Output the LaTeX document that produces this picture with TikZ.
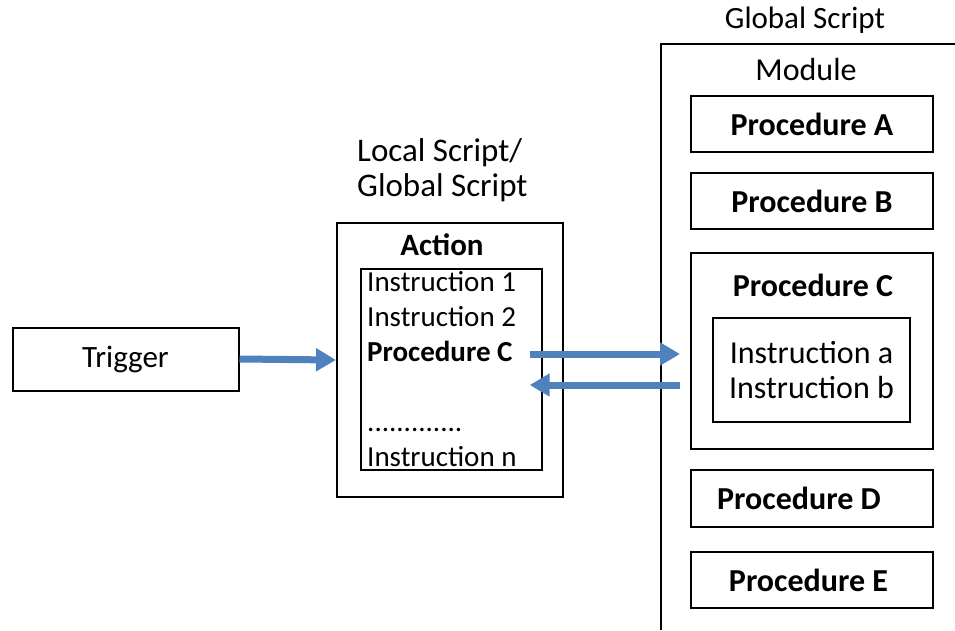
\documentclass[tikz,border=0pt]{standalone}
\usepackage{fontspec}
\setmainfont{Carlito}
\usetikzlibrary{arrows.meta}

\definecolor{flowblue}{RGB}{79,129,189}

\tikzset{
  box/.style={draw, line width=2pt, minimum width=#1, inner sep=0pt},
  flow/.style={draw=flowblue, line width=7pt, -{Triangle[width=22pt,length=20pt]}},
  txt/.style={inner sep=0pt, font=\fontsize{#1}{35}\selectfont},
  btxt/.style={inner sep=0pt, font=\fontsize{#1}{35}\selectfont\bfseries}
}

\begin{document}
\begin{tikzpicture}[x=1pt, y=-1pt]
\useasboundingbox (0,0) rectangle (955,630);

% trigger
\node[box=226pt, minimum height=63pt, txt=31] (trigger) at (125.5,359) {Trigger};

% action (local or global script)
\node[txt=33, align=left, anchor=base west] (actlabel) at (357,196) {Local Script/\\Global Script};
\node[box=226pt, minimum height=274pt] (action) at (450,360) {};
\node[btxt=31] (acttitle) at (442,245) {Action};
\node[box=181pt, minimum height=201pt] (list) at (451.5,369.5) {};
\node[txt=29, anchor=base west] (ins1) at (367,291) {Instruction 1};
\node[txt=29, anchor=base west] (ins2) at (367,326) {Instruction 2};
\node[btxt=29, anchor=base west] (callC) at (367,361) {Procedure C};
\node[txt=29, anchor=base west] (dots) at (367,431) {.............};
\node[txt=29, anchor=base west] (insn) at (367,466) {Instruction n};

% global script / module
\node[txt=31] (gslabel) at (805,20) {Global Script};
\draw[line width=2pt] (955,44) -- (661,44) -- (661,630);
\node[txt=32] (module) at (806,70) {Module};
\node[box=242pt, minimum height=56pt, btxt=32] (procA) at (812,124) {Procedure A};
\node[box=242pt, minimum height=56pt, btxt=32] (procB) at (812,201) {Procedure B};
\node[box=242pt, minimum height=196pt] (procC) at (812,351) {};
\node[btxt=32] (procClabel) at (813,285) {Procedure C};
\node[box=197pt, minimum height=104pt, txt=32, align=center] (procCins) at (811.5,370) {Instruction a\\Instruction b};
\node[box=242pt, minimum height=57pt] (procD) at (812,498.5) {};
\node[btxt=32] at (799,498.5) {Procedure D};
\node[box=242pt, minimum height=56pt] (procE) at (812,580) {};
\node[btxt=32] at (808.5,580) {Procedure E};

% calls
\coordinate (callout) at (680,354);
\coordinate (callback) at (680,385);
\draw[flow] (trigger.east) -- (action.west);
\draw[flow] ([xshift=17pt]callC.east |- callout) -- (callout);
\draw[flow] (callback) -- ([xshift=17pt]callC.east |- callback);

\end{tikzpicture}
\end{document}
